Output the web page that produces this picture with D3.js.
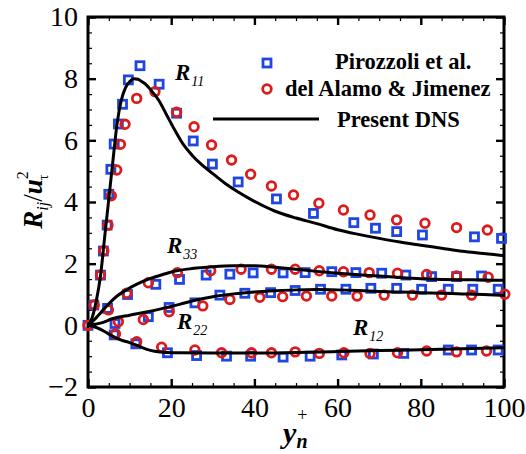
<!DOCTYPE html>
<html>
<head>
<meta charset="utf-8">
<script src="https://cdn.jsdelivr.net/npm/d3@7"></script>
<style>
  body { margin: 0; background: #fff; }
  svg { font-family: "Liberation Serif", "Times New Roman", serif; }
</style>
</head>
<body>
<svg width="526" height="454"></svg>
<script>
// ---- data ----
// Pirozzoli et al. (blue squares), [y+, R]
const piroR11 = [[0,0],[1.4,0.66],[3.0,1.63],[3.7,2.41],[4.6,3.25],[5.0,4.25],[5.5,5.06],[6.3,5.88],[7.3,6.53],[8.3,7.17],[9.7,7.96],[12.5,8.42],[17.1,7.82],[21.3,6.88],[25.3,5.98],[29.9,5.23],[36.1,4.65],[45.3,4.10],[54.2,3.63],[63.9,3.33],[69.1,3.15],[74.2,3.04],[80.4,2.93],[92.9,2.87],[99.4,2.82]];
const piroR33 = [[4.7,0.55],[9.5,1.0],[16.3,1.33],[22.0,1.49],[28.4,1.63],[34.1,1.66],[39.7,1.70],[46.9,1.70],[52.2,1.71],[58.6,1.74],[64.4,1.71],[70.6,1.69],[76.4,1.63],[82.6,1.58],[88.6,1.58],[94.6,1.60]];
const piroR22 = [[6.5,0.06],[14.5,0.28],[19.5,0.58],[25.7,0.73],[31.7,0.98],[37.7,1.04],[43.9,1.06],[49.8,1.13],[55.9,1.17],[62.0,1.17],[68.0,1.20],[74.2,1.20],[80.2,1.17],[86.6,1.17],[92.5,1.17],[98.6,1.17]];
const piroR12 = [[6.3,-0.31],[11.5,-0.6],[19.1,-0.89],[26.1,-0.98],[33.3,-1.0],[39.1,-1.0],[46.9,-1.03],[53.4,-1.0],[61.0,-0.96],[68.6,-0.93],[75.9,-0.91],[86.6,-0.80],[92.2,-0.80],[98.6,-0.80]];

// del Alamo & Jimenez (red circles)
const alamoR11 = [[0,0],[1.5,0.66],[3.0,1.63],[3.8,2.42],[4.8,3.25],[5.6,4.2],[6.9,5.04],[7.8,5.87],[8.9,6.52],[11.7,7.36],[16.1,7.58],[21.3,6.91],[25.5,6.44],[29.7,5.85],[34.5,5.36],[39.1,4.90],[44.1,4.52],[49.4,4.23],[55.5,3.96],[61.4,3.74],[67.8,3.58],[74.2,3.42],[81.0,3.31],[88.6,3.17],[96.0,3.09]];
const alamoR33 = [[4.9,0.5],[9.3,1.04],[14.5,1.38],[21.5,1.71],[29.5,1.77],[36.8,1.82],[44.1,1.82],[49.8,1.82],[55.6,1.77],[61.4,1.74],[67.6,1.71],[74.4,1.69],[81.4,1.65],[88.6,1.60],[96.2,1.56]];
const alamoR22 = [[7.3,0.12],[13.3,0.19],[19.5,0.44],[27.6,0.63],[34.1,0.84],[41.3,0.91],[46.8,0.93],[52.5,0.95],[58.6,0.95],[64.7,0.95],[71.2,0.98],[78.0,0.98],[85.0,0.98],[92.2,0.98],[100.2,1.01]];
const alamoR12 = [[6.6,-0.28],[11.7,-0.53],[17.7,-0.71],[25.7,-0.80],[32.1,-0.89],[39.3,-0.89],[44.1,-0.89],[49.8,-0.86],[55.6,-0.91],[61.5,-0.89],[67.8,-0.91],[74.4,-0.89],[81.4,-0.83],[88.6,-0.86],[95.8,-0.83]];

// present DNS (black lines)
const dnsR11 = [[0,0],[1,0.25],[2,0.8],[3,1.6],[4,2.85],[5,4.1],[6,5.35],[7,6.55],[8,7.3],[9,7.7],[10,7.9],[11,8.0],[12,7.98],[13,7.9],[14,7.8],[15,7.65],[17,7.3],[19,6.8],[21,6.3],[23,5.85],[25,5.52],[27,5.25],[30,4.92],[33,4.6],[36,4.33],[40,4.02],[45,3.7],[50,3.48],[55,3.3],[60,3.1],[65,2.95],[70,2.82],[75,2.7],[80,2.6],[85,2.5],[90,2.4],[95,2.33],[100,2.26]];
const dnsR33 = [[0,0],[1,0.12],[2,0.25],[3,0.4],[5,0.7],[7,0.95],[9,1.13],[12,1.35],[15,1.52],[18,1.65],[21,1.76],[25,1.84],[30,1.9],[35,1.93],[40,1.93],[45,1.88],[50,1.82],[55,1.75],[60,1.69],[65,1.64],[70,1.6],[75,1.55],[80,1.51],[85,1.49],[90,1.48],[95,1.47],[100,1.46]];
const dnsR22 = [[0,0],[3,0.07],[6,0.22],[10,0.33],[14,0.43],[18,0.55],[22,0.68],[26,0.82],[30,0.93],[35,1.02],[40,1.08],[45,1.12],[50,1.15],[55,1.16],[60,1.15],[65,1.13],[70,1.1],[75,1.08],[80,1.06],[85,1.04],[90,1.02],[95,1.0],[100,0.97]];
const dnsR12 = [[0,0],[2,-0.07],[4,-0.2],[6,-0.36],[8,-0.48],[10,-0.56],[12,-0.66],[14,-0.77],[16,-0.84],[18,-0.87],[22,-0.89],[30,-0.9],[40,-0.9],[50,-0.88],[60,-0.85],[70,-0.82],[80,-0.79],[90,-0.76],[100,-0.73]];

// ticks
const xMajor = [0, 20, 40, 60, 80, 100];
const xMinor = d3.range(0, 101, 5);
const yMajor = [-2, 0, 2, 4, 6, 8, 10];
const yMinor = d3.range(-2, 10.01, 0.5);

const legendNames = ['Pirozzoli et al.', 'del Alamo & Jimenez', 'Present DNS'];

// ---- layout ----
const svg = d3.select('svg');
const margin = {top: 17, right: 22, bottom: 67, left: 88};
const width = 526 - margin.left - margin.right;
const height = 454 - margin.top - margin.bottom;

const graph = svg.append('g')
  .attr('transform', `translate(${margin.left},${margin.top})`);

const x = d3.scaleLinear().domain([0, 100]).range([0, width]);
const y = d3.scaleLinear().domain([-2, 10]).range([height, 0]);

const blue = '#1f46e0';
const red = '#dc1c1c';

// minor ticks on all sides (pointing in)
const minorAxes = [
  [d3.axisBottom(x).tickValues(xMinor), `translate(0,${height})`],
  [d3.axisTop(x).tickValues(xMinor), 'translate(0,0)'],
  [d3.axisLeft(y).tickValues(yMinor), 'translate(0,0)'],
  [d3.axisRight(y).tickValues(yMinor), `translate(${width},0)`]
];
minorAxes.forEach(([ax, tr]) => {
  const g = graph.append('g').attr('transform', tr)
    .call(ax.tickSize(-4).tickFormat(''));
  g.select('.domain').remove();
  g.selectAll('line').attr('stroke-width', 1.2);
});

// major ticks
const xAxis = d3.axisBottom(x).tickValues(xMajor).tickSize(-8).tickPadding(10);
const yAxis = d3.axisLeft(y).tickValues(yMajor).tickSize(-8).tickPadding(10);

const xAxisGroup = graph.append('g')
  .attr('transform', `translate(0,${height})`)
  .call(xAxis);
const yAxisGroup = graph.append('g').call(yAxis);
graph.append('g').call(d3.axisTop(x).tickValues(xMajor).tickSize(-8).tickFormat(''));
graph.append('g').attr('transform', `translate(${width},0)`)
  .call(d3.axisRight(y).tickValues(yMajor).tickSize(-8).tickFormat(''));

graph.selectAll('.domain').remove();
graph.selectAll('.tick line').filter(function() { return +d3.select(this).attr('stroke-width') !== 1.2; })
  .attr('stroke-width', 2.4);
[xAxisGroup, yAxisGroup].forEach(g => g.selectAll('text')
  .attr('font-size', 28)
  .attr('font-family', '"Liberation Serif", serif')
  .attr('fill', '#000'));

// frame
graph.append('rect')
  .attr('width', width).attr('height', height)
  .attr('fill', 'none').attr('stroke', '#000').attr('stroke-width', 3);

// ---- markers ----
const sq = 8;
function squares(data) {
  graph.append('g').selectAll('rect')
    .data(data).enter().append('rect')
    .attr('x', d => x(d[0]) - sq / 2)
    .attr('y', d => y(d[1]) - sq / 2)
    .attr('width', sq).attr('height', sq)
    .attr('fill', 'none').attr('stroke', blue).attr('stroke-width', 2.8);
}
function circles(data) {
  graph.append('g').selectAll('circle')
    .data(data).enter().append('circle')
    .attr('cx', d => x(d[0]))
    .attr('cy', d => y(d[1]))
    .attr('r', 4.3)
    .attr('fill', 'none').attr('stroke', red).attr('stroke-width', 2.8);
}
[piroR11, piroR33, piroR22, piroR12].forEach(squares);
[alamoR11, alamoR33, alamoR22, alamoR12].forEach(circles);

// ---- DNS lines ----
const line = d3.line()
  .x(d => x(d[0]))
  .y(d => y(d[1]))
  .curve(d3.curveMonotoneX);

[dnsR11, dnsR33, dnsR22, dnsR12].forEach(d => {
  graph.append('path')
    .attr('d', line(d))
    .attr('fill', 'none')
    .attr('stroke', '#000')
    .attr('stroke-width', 3);
});

// ---- component labels ----
const labels = [
  {main: 'R', sub: '11', px: 175, py: 80},
  {main: 'R', sub: '33', px: 167, py: 253},
  {main: 'R', sub: '22', px: 177, py: 329},
  {main: 'R', sub: '12', px: 353, py: 335}
];
labels.forEach(l => {
  const t = svg.append('text')
    .attr('x', l.px).attr('y', l.py)
    .attr('font-size', 23).attr('font-weight', 'bold').attr('font-style', 'italic');
  t.append('tspan').text(l.main);
  t.append('tspan').attr('dy', 6).attr('dx', 1)
    .attr('font-size', 14).attr('font-weight', 'normal').text(l.sub);
});

// ---- legend ----
const legend = svg.append('g')
  .attr('font-size', 22.5).attr('font-weight', 'bold');
legend.append('rect')
  .attr('x', 267 - sq / 2).attr('y', 63 - sq / 2)
  .attr('width', sq).attr('height', sq)
  .attr('fill', 'none').attr('stroke', blue).attr('stroke-width', 2.8);
legend.append('circle')
  .attr('cx', 267).attr('cy', 89).attr('r', 4.3)
  .attr('fill', 'none').attr('stroke', red).attr('stroke-width', 2.8);
legend.append('line')
  .attr('x1', 213).attr('x2', 319).attr('y1', 119).attr('y2', 119)
  .attr('stroke', '#000').attr('stroke-width', 3);
legend.append('text').attr('x', 335).attr('y', 69).text(legendNames[0]);
legend.append('text').attr('x', 285).attr('y', 96).text(legendNames[1]);
legend.append('text').attr('x', 337).attr('y', 127).text(legendNames[2]);

// ---- axis titles ----
const xt = svg.append('text')
  .attr('x', 283).attr('y', 443)
  .attr('font-size', 30).attr('font-weight', 'bold').attr('font-style', 'italic');
xt.append('tspan').text('y');
xt.append('tspan').attr('dy', -22).attr('dx', 1).attr('font-size', 18)
  .attr('font-style', 'normal').attr('font-weight', 'normal').text('+');
xt.append('tspan').attr('dy', 27).attr('dx', -11).attr('font-size', 20).text('n');

const yt = svg.append('text')
  .attr('transform', 'translate(42,200) rotate(-90)')
  .attr('text-anchor', 'middle')
  .attr('font-size', 27).attr('font-weight', 'bold').attr('font-style', 'italic');
yt.append('tspan').text('R');
yt.append('tspan').attr('dy', 6).attr('font-size', 16).attr('font-weight', 'normal').text('ij');
yt.append('tspan').attr('dy', -6).attr('font-weight', 'normal').attr('font-style', 'normal').text('/');
yt.append('tspan').text('u');
yt.append('tspan').attr('dy', -14).attr('font-size', 16).attr('font-weight', 'normal').attr('font-style', 'normal').text('2');
yt.append('tspan').attr('dy', 20).attr('dx', -9).attr('font-size', 14).attr('font-weight', 'normal').attr('font-style', 'normal').text('τ');
</script>
</body>
</html>
